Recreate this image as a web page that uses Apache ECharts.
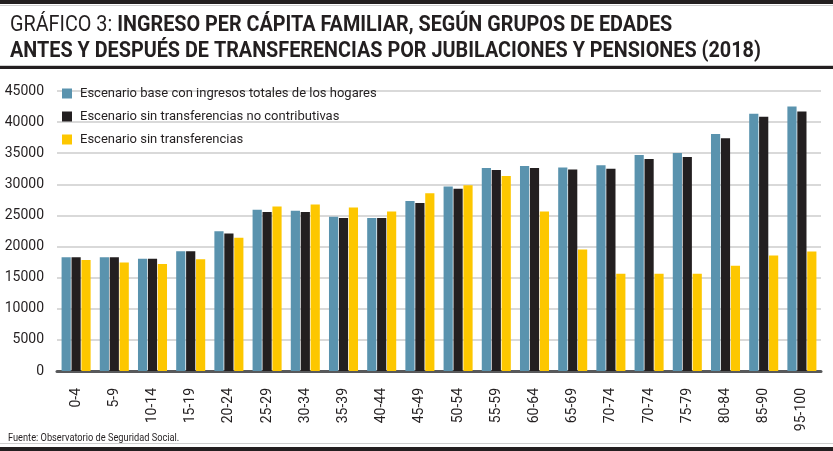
<!DOCTYPE html>
<html>
<head>
<meta charset="utf-8">
<script src="https://cdn.jsdelivr.net/npm/echarts@6/dist/echarts.min.js"></script>
<style>
  html, body { margin: 0; padding: 0; background: #fff; }
  #chart { width: 833px; height: 451px; }
</style>
</head>
<body>
<div id="chart"></div>
<script>
// grupos de edades (the duplicated 70-74 is in the original)
var groups = ['0-4', '5-9', '10-14', '15-19', '20-24', '25-29', '30-34', '35-39', '40-44', '45-49',
              '50-54', '55-59', '60-64', '65-69', '70-74', '70-74', '75-79', '80-84', '85-90', '95-100'];

var baseScenario = [18280, 18280, 18060, 19250, 22470, 25900, 25750, 24780, 24570, 27330,
                    29660, 32620, 32940, 32720, 33050, 34710, 35040, 38100, 41330, 42520];
var noNonContrib = [18280, 18280, 18060, 19250, 22100, 25540, 25540, 24570, 24570, 27010,
                    29280, 32290, 32620, 32400, 32510, 34070, 34390, 37410, 40850, 41710];
var noTransfers  = [17850, 17420, 17200, 17960, 21400, 26450, 26770, 26290, 25650, 28580,
                    29870, 31320, 25620, 19540, 15610, 15610, 15610, 16900, 18570, 19220];

var seriesNames = ['Escenario base con ingresos totales de los hogares',
                   'Escenario sin transferencias no contributivas',
                   'Escenario sin transferencias'];

var yTicks = { min: 0, max: 45000, step: 5000 };

var font = 'Roboto, "Noto Sans", sans-serif';

var myChart = echarts.init(document.getElementById('chart'));

var option = {
    backgroundColor: '#fff',
    animation: false,
    color: ['#5a93ae', '#231f20', '#fdc700'],
    graphic: [
        { type: 'rect', shape: { x: 0, y: 0, width: 833, height: 4 }, style: { fill: '#231f20' } },
        { type: 'rect', shape: { x: 0, y: 5, width: 833, height: 1 }, style: { fill: '#cfcfcf' } },
        { type: 'rect', shape: { x: 0, y: 65, width: 833, height: 1 }, style: { fill: '#cfcfcf' } },
        { type: 'rect', shape: { x: 0, y: 66, width: 833, height: 3 }, style: { fill: '#231f20' } },
        { type: 'rect', shape: { x: 0, y: 443, width: 833, height: 1 }, style: { fill: '#cfcfcf' } },
        { type: 'rect', shape: { x: 0, y: 447, width: 833, height: 4 }, style: { fill: '#231f20' } },
        {
            type: 'text', x: 10, y: 12, scaleX: 0.9,
            style: {
                text: '{a|GRÁFICO 3: }{b|INGRESO PER CÁPITA FAMILIAR, SEGÚN GRUPOS DE EDADES}\n{b|ANTES Y DESPUÉS DE TRANSFERENCIAS POR JUBILACIONES Y PENSIONES (2018)}',
                fill: '#231f20',
                rich: {
                    a: { fontFamily: font, fontSize: 22, fontWeight: 'normal', fill: '#231f20', lineHeight: 26 },
                    b: { fontFamily: font, fontSize: 22, fontWeight: 'bold', fill: '#231f20', lineHeight: 26 }
                }
            }
        },
        {
            type: 'text', x: 8, y: 433, scaleX: 0.84,
            style: { text: 'Fuente: Observatorio de Seguridad Social.', fontFamily: font, fontSize: 11, fill: '#231f20' }
        }
    ],
    legend: {
        orient: 'vertical',
        left: 57,
        top: 82,
        itemWidth: 10,
        itemHeight: 10,
        itemGap: 10,
        icon: 'rect',
        textStyle: { fontFamily: font, fontSize: 13, color: '#231f20', padding: [0, 0, 0, 3] },
        data: seriesNames
    },
    grid: { left: 57, right: 12, top: 91, bottom: 80, outerBoundsMode: 'none' },
    xAxis: {
        type: 'category',
        data: groups,
        dedplication: false,
        axisLine: { lineStyle: { color: '#58595b', width: 3 } },
        axisTick: { show: false },
        axisLabel: {
            rotate: 90, interval: 0, margin: 17,
            fontFamily: font, fontSize: 14, color: '#231f20'
        }
    },
    yAxis: {
        type: 'value',
        min: yTicks.min,
        max: yTicks.max,
        interval: yTicks.step,
        axisLine: { show: false },
        axisTick: { show: false },
        axisLabel: {
            margin: 13, fontFamily: font, fontSize: 14, color: '#231f20',
            formatter: function (v) { return String(v); }
        },
        splitLine: { lineStyle: { color: '#d9d9d9', width: 2 } }
    },
    series: [
        { name: seriesNames[0], type: 'bar', data: baseScenario, barGap: '8%', barCategoryGap: '24%' },
        { name: seriesNames[1], type: 'bar', data: noNonContrib, barGap: '8%', barCategoryGap: '24%' },
        { name: seriesNames[2], type: 'bar', data: noTransfers, barGap: '8%', barCategoryGap: '24%' }
    ]
};

myChart.setOption(option);
</script>
</body>
</html>
